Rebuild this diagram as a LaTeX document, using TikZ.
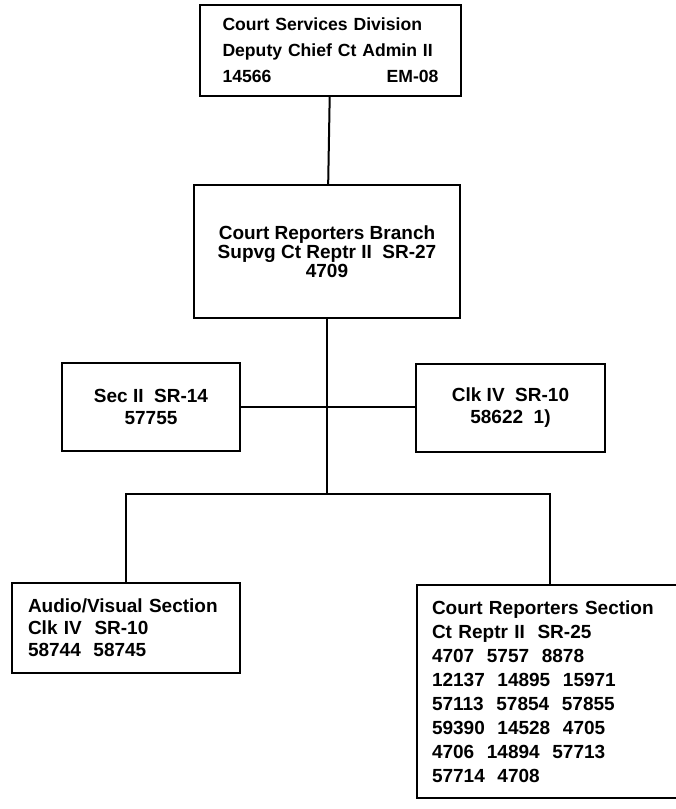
\documentclass[tikz,border=0pt]{standalone}
\usepackage{fontspec}
\setmainfont{Liberation Sans}
\begin{document}
\begin{tikzpicture}[
  x=1pt, y=-1pt,
  unit/.style={
    draw=black,
    line width=2.4pt,
    inner sep=0pt,
    font=\bfseries\fontsize{19}{#1}\selectfont
  },
  unit/.default=22,
  link/.style={line width=2pt, draw=black}
]

\useasboundingbox (0,0) rectangle (676,809);
\begin{scope}
\clip (0,0) rectangle (676,809);

\node[unit=26, minimum width=261pt, minimum height=91pt, align=left, text width=216pt,
  font=\bfseries\fontsize{17.6}{26}\selectfont] (division) at (330.5,50.5)
  {Court Services Division\\Deputy Chief Ct Admin II\\14566\hskip 0pt plus 1fill EM-08};

\node[unit=19, minimum width=266pt, minimum height=133pt, align=center] (branch) at (327,251.5)
  {Court Reporters Branch\\Supvg Ct Reptr II\ \ SR-27\\4709};

\node[unit, minimum width=178pt, minimum height=88pt, align=center] (secretary) at (151,407)
  {Sec II\ \ SR-14\\57755};
\node[unit, minimum width=189pt, minimum height=88pt, align=center] (clerk) at (510.5,408)
  {Clk IV\ \ SR-10\\58622\ \ 1)};

\node[unit, minimum width=228pt, minimum height=90pt, align=left, text width=196pt] (audio) at (126,628)
  {Audio/Visual Section\\Clk IV\ \ SR-10\\58744\ \ 58745};
\node[unit=24, minimum width=266pt, minimum height=213pt, align=left, text width=236pt] (reporters) at (550,691.5)
  {Court Reporters Section\\Ct Reptr II\ \ SR-25\\4707\ \ 5757\ \ 8878\\12137\ \ 14895\ \ 15971\\57113\ \ 57854\ \ 57855\\59390\ \ 14528\ \ 4705\\4706\ \ 14894\ \ 57713\\57714\ \ 4708};

\coordinate (bus) at (branch.south |- 0,494);

\draw[link] (division) -- (branch);
\draw[link] (branch) -- (bus);
\draw[link] (secretary.east) -- (secretary.east -| clerk.west);
\draw[link] (audio.north) |- (bus) -| (reporters.north);

\end{scope}
\end{tikzpicture}
\end{document}
